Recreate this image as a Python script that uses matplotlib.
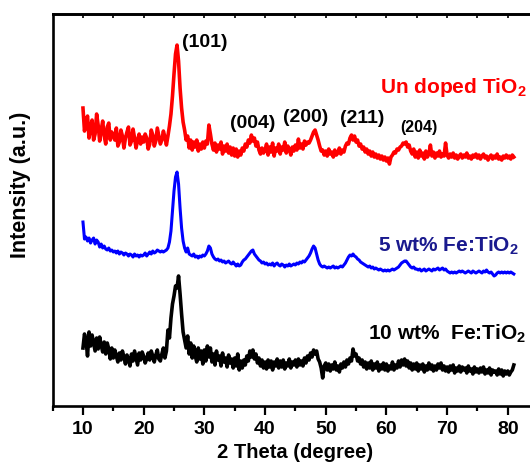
import numpy as np
import matplotlib.pyplot as plt

plt.rcParams['font.family'] = ['Liberation Sans', 'DejaVu Sans']
plt.rcParams['font.weight'] = 'bold'
plt.rcParams['mathtext.fontset'] = 'custom'
plt.rcParams['mathtext.rm'] = 'Liberation Sans:bold'
plt.rcParams['mathtext.default'] = 'rm'

#
# 2 theta grid, 0.25 degree step, 10 .. 81
#
two_theta = np.arange(10.0, 81.001, 0.25)

# intensities (a.u., curves already stacked)
undoped = [
    298, 275, 284, 290, 268, 279, 286, 266, 272, 292, 281, 265, 276, 285, 270, 262, 279, 283, 266, 274,
    271, 266, 278, 260, 264, 276, 270, 258, 268, 274, 279, 261, 265, 277, 268, 258, 266, 272, 262, 269,
    264, 272, 268, 257, 262, 276, 271, 260, 265, 278, 270, 262, 266, 275, 269, 261, 270, 280, 292, 310,
    332, 352, 361, 345, 318, 298, 284, 276, 266, 270, 258, 266, 256, 264, 259, 266, 255, 262, 257, 264,
    258, 265, 262, 281, 272, 262, 256, 263, 254, 261, 257, 264, 252, 260, 255, 262, 253, 259, 251, 258,
    250, 257, 249, 255, 251, 258, 255, 262, 259, 266, 263, 271, 265, 268, 260, 264, 256, 252, 258, 253,
    256, 262, 251, 259, 254, 263, 250, 258, 255, 262, 252, 259, 256, 264, 253, 260, 257, 251, 259, 255,
    261, 256, 267, 258, 262, 257, 265, 261, 264, 263, 266, 270, 274, 276, 271, 266, 260, 255, 256, 251,
    255, 250, 257, 252, 254, 249, 256, 251, 253, 258, 252, 256, 254, 260, 263, 262, 268, 271, 266, 270,
    264, 266, 260, 262, 257, 259, 254, 257, 252, 255, 250, 254, 249, 252, 248, 251, 247, 250, 246, 249,
    245, 248, 242, 249, 251, 254, 253, 257, 256, 259, 260, 263, 262, 264, 259, 261, 255, 252, 257, 249,
    254, 248, 256, 250, 253, 247, 255, 249, 252, 261, 250, 254, 248, 253, 250, 255, 249, 252, 250, 263,
    251, 248, 252, 249, 253, 248, 251, 247, 250, 252, 248, 251, 249, 253, 248, 250, 247, 251, 249, 252,
    248, 251, 247, 250, 252, 248, 250, 246, 249, 251, 247, 250, 248, 252, 247, 249, 246, 250, 248, 251,
    248, 250, 247, 251, 249,
]

fe5 = [
    184, 167, 169, 165, 168, 163, 166, 168, 162, 166, 164, 159, 162, 158, 160, 157, 156, 158, 155, 156,
    154, 155, 153, 155, 152, 154, 153, 151, 153, 152, 150, 152, 151, 149, 152, 150, 151, 149, 151, 150,
    151, 153, 150, 152, 154, 152, 155, 153, 154, 156, 155, 154, 155, 154, 155, 156, 158, 164, 175, 195,
    215, 229, 234, 222, 198, 178, 165, 158, 154, 158, 152, 151, 150, 152, 149, 150, 148, 150, 149, 151,
    150, 152, 155, 160, 158, 152, 149, 147, 146, 147, 145, 146, 144, 145, 143, 144, 145, 143, 142, 144,
    142, 140, 142, 140, 141, 144, 146, 147, 149, 151, 153, 155, 156, 152, 150, 148, 146, 145, 143, 144,
    142, 143, 141, 142, 141, 143, 140, 142, 143, 141, 140, 142, 141, 139, 141, 140, 142, 140, 141, 142,
    141, 143, 142, 144, 143, 145, 144, 146, 148, 150, 153, 157, 160, 158, 152, 146, 142, 140, 139, 140,
    139, 138, 139, 138, 139, 140, 138, 139, 138, 139, 140, 139, 141, 143, 146, 149, 151, 150, 152, 150,
    149, 147, 146, 144, 143, 142, 141, 140, 139, 140, 138, 139, 137, 138, 137, 136, 137, 136, 135, 136,
    135, 136, 135, 136, 137, 136, 137, 138, 139, 141, 143, 144, 145, 145, 143, 141, 139, 138, 139, 137,
    137, 136, 137, 135, 136, 137, 135, 136, 137, 136, 135, 137, 136, 137, 138, 136, 137, 138, 136, 137,
    135, 134, 133, 134, 133, 134, 133, 134, 135, 134, 135, 134, 133, 134, 135, 134, 133, 135, 134, 133,
    134, 135, 134, 133, 135, 134, 136, 134, 133, 134, 132, 130, 131, 133, 134, 133, 134, 133, 134, 133,
    134, 133, 134, 133, 132,
]

fe10 = [
    58, 72, 66, 50, 74, 60, 71, 63, 55, 68, 57, 69, 61, 54, 64, 52, 63, 57, 47, 58,
    48, 56, 50, 44, 53, 46, 55, 49, 42, 51, 47, 40, 52, 45, 55, 48, 41, 53, 46, 54,
    50, 43, 47, 53, 46, 55, 50, 44, 51, 56, 47, 45, 52, 58, 48, 55, 76, 68, 88, 102,
    110, 120, 118, 130, 112, 92, 74, 66, 58, 70, 52, 63, 48, 60, 50, 44, 58, 47, 55, 42,
    56, 45, 60, 49, 58, 44, 52, 41, 55, 46, 50, 40, 53, 44, 48, 39, 51, 43, 47, 38,
    48, 40, 52, 36, 45, 38, 46, 41, 50, 45, 55, 49, 56, 47, 52, 43, 48, 40, 46, 38,
    44, 37, 46, 39, 45, 36, 44, 40, 47, 38, 45, 39, 46, 37, 43, 40, 47, 38, 44, 41,
    46, 39, 47, 41, 45, 40, 48, 43, 50, 46, 53, 49, 56, 52, 55, 47, 44, 38, 28, 40,
    43, 36, 42, 35, 41, 37, 44, 36, 40, 34, 42, 38, 44, 39, 46, 42, 48, 45, 57, 50,
    52, 45, 48, 42, 46, 39, 44, 37, 43, 38, 45, 36, 42, 38, 44, 35, 41, 37, 43, 36,
    42, 35, 40, 37, 44, 36, 41, 38, 45, 39, 46, 41, 47, 40, 45, 38, 43, 36, 42, 37,
    43, 35, 41, 37, 42, 34, 40, 36, 43, 37, 41, 35, 40, 36, 42, 38, 43, 36, 40, 35,
    39, 34, 40, 36, 41, 33, 38, 35, 40, 34, 39, 36, 38, 33, 40, 35, 37, 32, 39, 34,
    37, 33, 38, 34, 39, 32, 36, 33, 38, 31, 36, 34, 35, 31, 37, 32, 36, 30, 35, 32,
    35, 31, 34, 36, 41,
]

# peak labels (hkl) : text, 2theta, height, size
hkl_labels = ['(101)', '(004)', '(200)', '(211)', '(204)']
hkl_x = [26.3, 34.2, 43.0, 52.4, 62.3]
hkl_y = [364, 283, 289, 288, 279]
hkl_size = [14, 14, 14, 14, 11.5]

fig = plt.figure(figsize=(5.30, 4.66), dpi=100)
ax = fig.add_axes([0.0993, 0.1288, 0.916, 0.841])

ax.plot(two_theta, undoped, color='#ff0000', lw=2.6)
ax.plot(two_theta, fe5, color='#0000ff', lw=2.2)
ax.plot(two_theta, fe10, color='black', lw=2.6)

for lab, xx, yy, sz in zip(hkl_labels, hkl_x, hkl_y, hkl_size):
    ax.text(xx, yy, lab, fontsize=sz, fontweight='bold', ha='left', va='center')

ax.text(58.9, 313, 'Un doped TiO$_2$', color='#ff0000', fontsize=15, fontweight='bold', va='baseline')
ax.text(58.6, 154, '5 wt% Fe:TiO$_2$', color='#1a1a8e', fontsize=15, fontweight='bold', va='baseline')
ax.text(56.9, 66, '10 wt%  Fe:TiO$_2$', color='black', fontsize=15, fontweight='bold', va='baseline')

ax.set_xlim(5, 85)
ax.set_ylim(0, 392)
ax.set_xticks(np.arange(10, 81, 10))
ax.set_xticks(np.arange(5, 85, 5), minor=True)
ax.set_yticks([])
ax.tick_params(axis='x', which='major', direction='out', length=6.5, width=1.6, labelsize=14, pad=4)
ax.tick_params(axis='x', which='minor', direction='out', length=3.6, width=1.6)
for s in ax.spines.values():
    s.set_linewidth(1.9)

# inner ticks on the top frame
top = ax.secondary_xaxis('top')
top.set_xticks(np.arange(10, 81, 5))
top.tick_params(direction='in', length=3, width=1.2, labeltop=False)
top.spines['top'].set_linewidth(1.9)

ax.set_xlabel('2 Theta (degree)', fontsize=14.5, fontweight='bold', labelpad=4)
ax.set_ylabel('Intensity (a.u.)', fontsize=15.5, fontweight='bold')
ax.yaxis.set_label_coords(-0.045, 0.564)

fig.savefig('out.png', dpi=100)
